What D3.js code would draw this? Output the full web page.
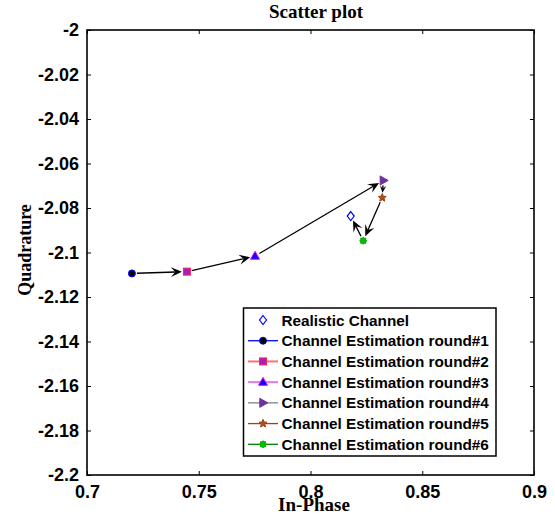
<!DOCTYPE html>
<html>
<head>
<meta charset="utf-8">
<script src="https://cdn.jsdelivr.net/npm/d3@7"></script>
<style>
  html, body { margin: 0; padding: 0; background: #fff; }
  svg { display: block; }
</style>
</head>
<body>
<svg id="chart" width="555" height="517"></svg>
<script>
// Axis ranges and ticks
const xDomain = [0.7, 0.9];
const yDomain = [-2.2, -2];
const xTicks = [0.7, 0.75, 0.8, 0.85, 0.9];
const yTicks = [-2, -2.02, -2.04, -2.06, -2.08, -2.1, -2.12, -2.14, -2.16, -2.18, -2.2];

// Legend labels
const seriesNames = [
  "Realistic Channel",
  "Channel Estimation round#1",
  "Channel Estimation round#2",
  "Channel Estimation round#3",
  "Channel Estimation round#4",
  "Channel Estimation round#5",
  "Channel Estimation round#6"
];

// In-phase / quadrature values per series (realistic channel, then rounds 1..6)
const inPhase    = [0.8180, 0.7201, 0.7447, 0.7752, 0.8326, 0.8321, 0.8236];
const quadrature = [-2.0836, -2.1094, -2.1086, -2.1016, -2.0676, -2.0754, -2.0947];

// Arrows between successive estimates, then back to the realistic channel
const arrowFrom = [1, 2, 3, 4, 5, 6];
const arrowTo   = [2, 3, 4, 5, 6, 0];

// Per-series styling
const markerShape = ["diamond", "circle", "square", "triangle", "triangleRight", "star", "dot"];
const lineColor   = [null, "#0000ff", "#ff7070", "#e07ee0", "#808080", "#a0400a", "#008000"];
const markerFill  = ["none", "#000000", "#a020c0", "#0000ff", "#7030a0", "#a0522d", "#00c000"];
const markerEdge  = ["#0000ff", "#0000ff", "#ff2050", "#ff00ff", "#7030a0", "#a0400a", "#00a000"];

const svg = d3.select("#chart");
const m = { left: 87, right: 534, top: 30, bottom: 475 };

const x = d3.scaleLinear().domain(xDomain).range([m.left, m.right]);
const y = d3.scaleLinear().domain(yDomain).range([m.bottom, m.top]);

const fmt = d => String(+d.toFixed(2));

// Axes (ticks pointing inward, mirrored on top/right)
const tickStyle = g => {
  g.select(".domain").remove();
  g.selectAll(".tick line").attr("stroke", "#000").attr("stroke-width", 1);
  g.selectAll(".tick text")
    .attr("font-family", "'Liberation Sans', Arial, sans-serif")
    .attr("font-weight", "bold")
    .attr("font-size", 18)
    .attr("fill", "#000");
};

svg.append("g")
  .attr("transform", `translate(0,${m.bottom})`)
  .call(d3.axisBottom(x).tickValues(xTicks).tickFormat(fmt).tickSizeInner(-4).tickPadding(6))
  .call(tickStyle)
  .selectAll(".tick text").attr("dy", "0.95em");

svg.append("g")
  .attr("transform", `translate(0,${m.top})`)
  .call(d3.axisTop(x).tickValues(xTicks).tickFormat("").tickSizeInner(-4))
  .call(tickStyle);

svg.append("g")
  .attr("transform", `translate(${m.left},0)`)
  .call(d3.axisLeft(y).tickValues(yTicks).tickFormat(fmt).tickSizeInner(-4).tickPadding(8))
  .call(tickStyle);

svg.append("g")
  .attr("transform", `translate(${m.right},0)`)
  .call(d3.axisRight(y).tickValues(yTicks).tickFormat("").tickSizeInner(-4))
  .call(tickStyle);

// Plot frame
svg.append("rect")
  .attr("x", m.left).attr("y", m.top)
  .attr("width", m.right - m.left).attr("height", m.bottom - m.top)
  .attr("fill", "none").attr("stroke", "#000").attr("stroke-width", 1.6);

// Titles
const serif = "'Liberation Serif', 'Times New Roman', serif";
svg.append("text")
  .attr("x", 316).attr("y", 18)
  .attr("text-anchor", "middle")
  .attr("font-family", serif).attr("font-weight", "bold").attr("font-size", 19)
  .text("Scatter plot");

svg.append("text")
  .attr("x", 314).attr("y", 511)
  .attr("text-anchor", "middle")
  .attr("font-family", serif).attr("font-weight", "bold").attr("font-size", 19)
  .text("In-Phase");

svg.append("text")
  .attr("transform", "translate(31,250) rotate(-90)")
  .attr("text-anchor", "middle")
  .attr("font-family", serif).attr("font-weight", "bold").attr("font-size", 18)
  .text("Quadrature");

// Marker drawing
function marker(g, shape, cx, cy, fill, edge) {
  let node;
  switch (shape) {
    case "diamond":
      node = g.append("path").attr("d", `M${cx},${cy - 4.5}L${cx + 3.5},${cy}L${cx},${cy + 4.5}L${cx - 3.5},${cy}Z`);
      break;
    case "circle":
      node = g.append("circle").attr("cx", cx).attr("cy", cy).attr("r", 3.5);
      break;
    case "square":
      node = g.append("rect").attr("x", cx - 3.5).attr("y", cy - 3.5).attr("width", 7).attr("height", 7);
      break;
    case "triangle":
      node = g.append("path").attr("d", `M${cx},${cy - 4.8}L${cx + 4.5},${cy + 3.2}L${cx - 4.5},${cy + 3.2}Z`);
      break;
    case "triangleRight":
      node = g.append("path").attr("d", `M${cx + 4.8},${cy}L${cx - 3.2},${cy - 4.5}L${cx - 3.2},${cy + 4.5}Z`);
      break;
    case "star": {
      const pts = d3.range(10).map(i => {
        const a = -Math.PI / 2 + i * Math.PI / 5;
        const r = i % 2 === 0 ? 4.2 : 1.9;
        return [cx + r * Math.cos(a), cy + r * Math.sin(a)];
      });
      node = g.append("path").attr("d", d3.line()(pts) + "Z");
      break;
    }
    case "dot": {
      const pts = d3.range(16).map(i => {
        const a = i * Math.PI / 8;
        const r = i % 2 === 0 ? 3.6 : 2.6;
        return [cx + r * Math.cos(a), cy + r * Math.sin(a)];
      });
      node = g.append("path").attr("d", d3.line()(pts) + "Z");
      break;
    }
  }
  node.attr("fill", fill).attr("stroke", edge).attr("stroke-width", shape === "diamond" ? 1.2 : 1);
}

// Arrows
const arrows = svg.append("g");
arrowFrom.forEach((from, i) => {
  const to = arrowTo[i];
  const x0 = x(inPhase[from]), y0 = y(quadrature[from]);
  const x1 = x(inPhase[to]), y1 = y(quadrature[to]);
  const dx = x1 - x0, dy = y1 - y0;
  const len = Math.hypot(dx, dy);
  const ux = dx / len, uy = dy / len;
  const startGap = 5, endGap = 5;
  const sx = x0 + ux * startGap, sy = y0 + uy * startGap;
  const tx = x1 - ux * endGap, ty = y1 - uy * endGap;
  const headLen = Math.min(11, (len - startGap - endGap) * 0.95);
  const headW = headLen * 0.45;
  const bx = tx - ux * headLen, by = ty - uy * headLen;
  const nx = -uy, ny = ux;
  const notchX = tx - ux * headLen * 0.6, notchY = ty - uy * headLen * 0.6;
  arrows.append("line")
    .attr("x1", sx).attr("y1", sy).attr("x2", notchX).attr("y2", notchY)
    .attr("stroke", "#000").attr("stroke-width", 1.3);
  arrows.append("path")
    .attr("d", `M${tx},${ty}L${bx + nx * headW},${by + ny * headW}L${notchX},${notchY}L${bx - nx * headW},${by - ny * headW}Z`)
    .attr("fill", "#000");
});

// Data markers
const marks = svg.append("g");
inPhase.forEach((v, i) => {
  marker(marks, markerShape[i], x(v), y(quadrature[i]), markerFill[i], markerEdge[i]);
});

// Legend
const lg = svg.append("g");
const lgBox = { x: 243.5, y: 308, w: 252.5, h: 148 };
lg.append("rect")
  .attr("x", lgBox.x).attr("y", lgBox.y).attr("width", lgBox.w).attr("height", lgBox.h)
  .attr("fill", "#fff").attr("stroke", "#000").attr("stroke-width", 1.5);

const rowY = d3.scaleLinear().domain([0, seriesNames.length - 1]).range([320, 444.3]);
seriesNames.forEach((name, i) => {
  const cy = rowY(i);
  if (lineColor[i]) {
    lg.append("line")
      .attr("x1", 248).attr("x2", 278).attr("y1", cy).attr("y2", cy)
      .attr("stroke", lineColor[i]).attr("stroke-width", i === 2 || i === 3 ? 2 : 1.3);
  }
  marker(lg, markerShape[i], 263, cy, markerFill[i], markerEdge[i]);
  lg.append("text")
    .attr("x", 281.5).attr("y", cy).attr("dy", "0.36em")
    .attr("font-family", "'Liberation Sans', Arial, sans-serif")
    .attr("font-weight", "bold").attr("font-size", 15.3)
    .text(name);
});
</script>
</body>
</html>
